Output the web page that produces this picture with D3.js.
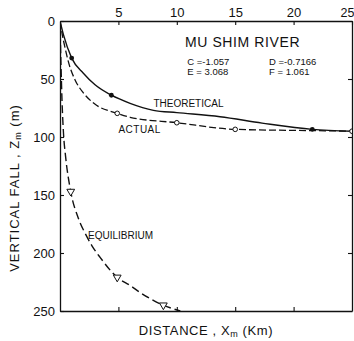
<!DOCTYPE html>
<html>
<head>
<meta charset="utf-8">
<script src="https://cdn.jsdelivr.net/npm/d3@7"></script>
<style>
  body { margin: 0; background: #fff; }
  svg { display: block; font-family: 'Liberation Sans', Arial, sans-serif; }
</style>
</head>
<body>
<svg id="root" width="354" height="341"></svg>
<script>
// theoretical curve (solid, filled dots)
const theoX = [0, 0.3, 1.0, 2.0, 3.0, 4.4, 6.0, 8.0, 10.0, 13.7, 17.3, 21.6, 25];
const theoY = [0, 12, 32, 45, 55, 64, 71, 77, 79, 82.5, 88, 93.4, 95];
const theoDotX = [1.0, 4.4, 21.6];
const theoDotY = [32, 64, 93.4];

// actual profile (dashed, open circles)
const actX = [0, 0.2, 0.43, 0.8, 1.3, 2.0, 2.9, 4.9, 6.0, 10.0, 15.0, 21.6, 25];
const actY = [0, 12, 23, 38, 51, 62, 71, 79.6, 83, 87.7, 93.4, 94.5, 95];
const actDotX = [4.9, 10.0, 15.0, 25];
const actDotY = [79.6, 87.7, 93.4, 95];

// equilibrium curve (dashed, triangles)
const eqX = [0, 0.04, 0.09, 0.17, 0.3, 0.47, 0.92, 1.57, 2.2, 2.75, 3.45, 4.9, 6.0, 7.0, 8.85, 10.3];
const eqY = [0, 20, 40, 68, 97, 116, 147, 170, 184, 194, 204, 221, 228, 235, 245, 250];
const eqTriX = [0.92, 4.9, 8.85];
const eqTriY = [147, 221, 245];

const xTicks = [5, 10, 15, 20, 25];
const yTicks = [0, 50, 100, 150, 200, 250];

const svg = d3.select('#root');

const x = d3.scaleLinear().domain([0, 25]).range([60, 352]);
const y = d3.scaleLinear().domain([0, 250]).range([21, 311]);

svg.append('clipPath').attr('id', 'plot')
  .append('rect')
  .attr('x', x(0)).attr('y', y(0))
  .attr('width', x(25) - x(0)).attr('height', y(250) - y(0));

// axes, ticks pointing inward
const styleAxis = g => {
  g.selectAll('.domain').attr('stroke', '#111').attr('stroke-width', 1.3);
  g.selectAll('.tick line').attr('stroke', '#111').attr('stroke-width', 1.1);
  g.selectAll('.tick text').attr('fill', '#111').attr('font-size', 13)
    .attr('font-family', "'Liberation Sans', Arial, sans-serif");
};

const topAxis = svg.append('g').attr('transform', `translate(0,${y(0)})`)
  .call(d3.axisTop(x).tickValues(xTicks).tickSize(-4).tickSizeOuter(0).tickPadding(4))
  .call(styleAxis);
// last label sits against the page edge
topAxis.selectAll('.tick text').filter(d => d === 25)
  .attr('dx', -5).attr('font-size', 12.5);

svg.append('g').attr('transform', `translate(0,${y(250)})`)
  .call(d3.axisBottom(x).tickValues(xTicks.slice(0, 4)).tickSize(-4).tickSizeOuter(0).tickFormat(''))
  .call(styleAxis);

svg.append('g').attr('transform', `translate(${x(0)},0)`)
  .call(d3.axisLeft(y).tickValues(yTicks).tickSize(-4).tickSizeOuter(0).tickPadding(5))
  .call(styleAxis);

svg.append('g').attr('transform', `translate(${x(25)},0)`)
  .call(d3.axisRight(y).tickValues(yTicks.slice(1, 5)).tickSize(-4).tickSizeOuter(0).tickFormat(''))
  .call(styleAxis);

// curves
const line = d3.line()
  .x(d => x(d[0]))
  .y(d => y(d[1]))
  .curve(d3.curveMonotoneX);

const curves = svg.append('g').attr('clip-path', 'url(#plot)');

curves.append('path')
  .datum(d3.zip(theoX, theoY))
  .attr('fill', 'none').attr('stroke', '#111').attr('stroke-width', 1.4)
  .attr('d', line);

curves.append('path')
  .datum(d3.zip(actX, actY))
  .attr('fill', 'none').attr('stroke', '#111').attr('stroke-width', 1.3)
  .attr('stroke-dasharray', '7,3')
  .attr('d', line);

curves.append('path')
  .datum(d3.zip(eqX, eqY))
  .attr('fill', 'none').attr('stroke', '#111').attr('stroke-width', 1.4)
  .attr('stroke-dasharray', '8,4')
  .attr('d', line);

// markers
curves.selectAll('.theo-dot')
  .data(d3.zip(theoDotX, theoDotY))
  .enter().append('circle')
  .attr('class', 'theo-dot')
  .attr('cx', d => x(d[0])).attr('cy', d => y(d[1]))
  .attr('r', 2.4).attr('fill', '#111');

curves.selectAll('.act-dot')
  .data(d3.zip(actDotX, actDotY))
  .enter().append('circle')
  .attr('class', 'act-dot')
  .attr('cx', d => x(d[0])).attr('cy', d => y(d[1]))
  .attr('r', 2.3).attr('fill', '#fff').attr('stroke', '#111').attr('stroke-width', 1);

const tri = d3.symbol().type(d3.symbolTriangle).size(26);
curves.selectAll('.eq-tri')
  .data(d3.zip(eqTriX, eqTriY))
  .enter().append('path')
  .attr('class', 'eq-tri')
  .attr('transform', d => `translate(${x(d[0])},${y(d[1])}) rotate(180)`)
  .attr('d', tri)
  .attr('fill', '#fff').attr('stroke', '#111').attr('stroke-width', 1);

// annotations
const label = (text, kx, zy, size, spacing = 0) =>
  svg.append('text')
    .attr('x', x(kx)).attr('y', y(zy))
    .attr('font-size', size)
    .attr('letter-spacing', spacing)
    .attr('fill', '#111')
    .text(text);

label('MU SHIM RIVER', 10.7, 22.4, 14, 0.6);
label('C =-1.057', 10.9, 37.5, 9.5);
label('D =-0.7166', 17.9, 37.5, 9.5);
label('E = 3.068', 10.9, 46.5, 9.5);
label('F = 1.061', 17.9, 46.5, 9.5);
label('THEORETICAL', 8.0, 74.5, 10);
label('ACTUAL', 5.0, 96.5, 10, 0.5);
label('EQUILIBRIUM', 2.4, 188, 10);

// axis titles
const yTitle = svg.append('text')
  .attr('transform', 'translate(19,188) rotate(-90)')
  .attr('text-anchor', 'middle')
  .attr('font-size', 13)
  .attr('letter-spacing', 1)
  .attr('fill', '#111');
yTitle.append('tspan').text('VERTICAL FALL , Z');
yTitle.append('tspan').attr('font-size', 9).attr('dy', 2).text('m');
yTitle.append('tspan').attr('dy', -2).text(' (m)');

const xTitle = svg.append('text')
  .attr('x', 206).attr('y', 335)
  .attr('text-anchor', 'middle')
  .attr('font-size', 13)
  .attr('letter-spacing', 0.6)
  .attr('fill', '#111');
xTitle.append('tspan').text('DISTANCE , X');
xTitle.append('tspan').attr('font-size', 9).attr('dy', 2).text('m');
xTitle.append('tspan').attr('dy', -2).text(' (Km)');
</script>
</body>
</html>
